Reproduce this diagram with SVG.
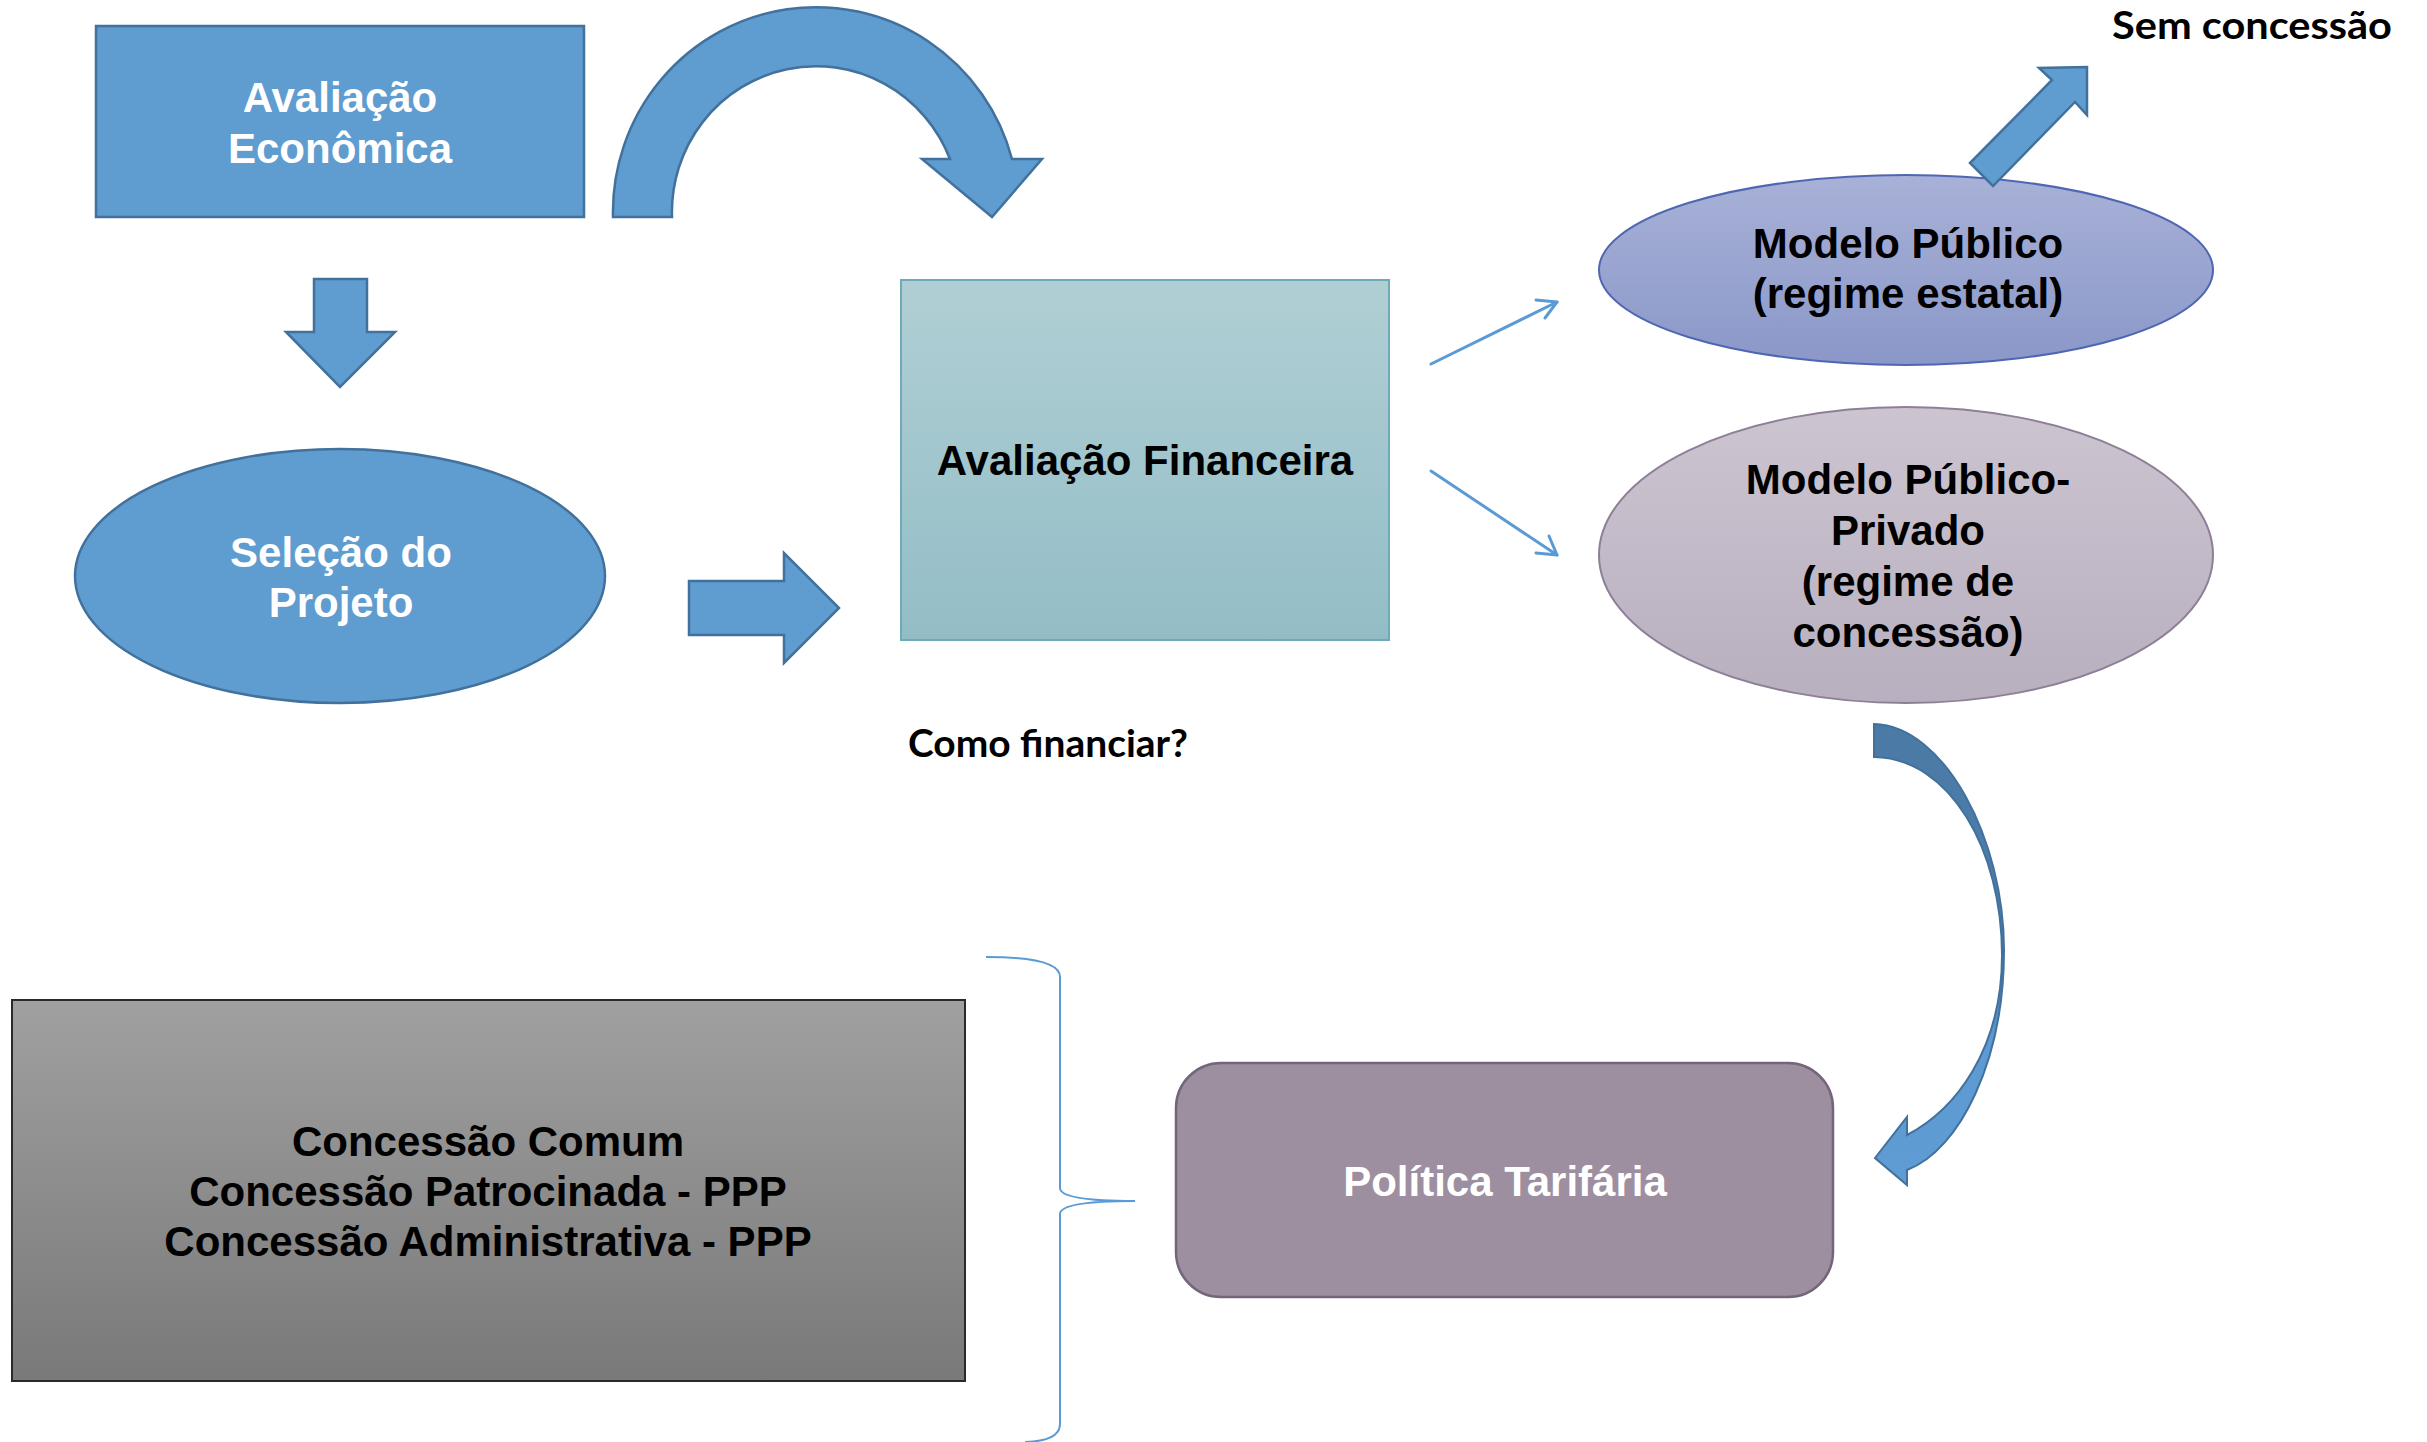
<svg xmlns="http://www.w3.org/2000/svg" width="2427" height="1442" viewBox="0 0 2427 1442">
  <style>
    .blue { fill: #5f9cd0; stroke: #41719c; stroke-width: 2.5; }
    .t { font-family: "Liberation Sans", Arial, sans-serif; font-weight: bold; font-size: 42px; text-anchor: middle; }
    .w { fill: #ffffff; }
    .k { fill: #000000; }
    .c { font-family: Lato, "Open Sans", sans-serif; font-weight: bold; font-size: 38px; fill: #000000; }
    .thin { fill: none; stroke: #5b9bd5; stroke-width: 3; stroke-linecap: round; stroke-linejoin: round; }
  </style>
  <defs>
    <linearGradient id="gTeal" x1="0" y1="0" x2="0" y2="1">
      <stop offset="0" stop-color="#b0cfd4"/>
      <stop offset="1" stop-color="#93bdc6"/>
    </linearGradient>
    <linearGradient id="gMP" x1="0" y1="0" x2="0" y2="1">
      <stop offset="0" stop-color="#a8b1d7"/>
      <stop offset="1" stop-color="#8a97c8"/>
    </linearGradient>
    <linearGradient id="gMPP" x1="0" y1="0" x2="0" y2="1">
      <stop offset="0" stop-color="#ccc5d0"/>
      <stop offset="1" stop-color="#b8afbf"/>
    </linearGradient>
    <linearGradient id="gGray" x1="0" y1="0" x2="0" y2="1">
      <stop offset="0" stop-color="#a0a0a0"/>
      <stop offset="1" stop-color="#797979"/>
    </linearGradient>
    <linearGradient id="gCurve" gradientUnits="userSpaceOnUse" x1="0" y1="724" x2="0" y2="1185">
      <stop offset="0" stop-color="#4b7aa6"/>
      <stop offset="0.55" stop-color="#4d7eab"/>
      <stop offset="0.68" stop-color="#5d9ad1"/>
      <stop offset="1" stop-color="#5f9cd3"/>
    </linearGradient>
  </defs>

  <g id="node-avaliacao-economica">
    <rect class="blue" x="96" y="26" width="488" height="191"/>
    <text class="t w" x="340" y="112">Avaliação</text>
    <text class="t w" x="340" y="163">Econômica</text>
  </g>

  <g id="node-selecao-projeto">
    <ellipse class="blue" cx="340" cy="576" rx="265" ry="127"/>
    <text class="t w" x="341" y="567">Seleção do</text>
    <text class="t w" x="341" y="617">Projeto</text>
  </g>

  <g id="node-avaliacao-financeira">
    <rect x="901" y="280" width="488" height="360" fill="url(#gTeal)" stroke="#6eaab8" stroke-width="2"/>
    <text class="t k" x="1145" y="475">Avaliação Financeira</text>
  </g>

  <g id="node-como-financiar">
    <text class="c" x="908" y="757" textLength="280" lengthAdjust="spacingAndGlyphs">Como financiar?</text>
  </g>

  <g id="node-modelo-publico">
    <ellipse cx="1906" cy="270" rx="307" ry="95" fill="url(#gMP)" stroke="#4f66b3" stroke-width="2"/>
    <text class="t k" x="1908" y="258">Modelo Público</text>
    <text class="t k" x="1908" y="308">(regime estatal)</text>
  </g>

  <g id="node-sem-concessao">
    <text class="c" x="2112" y="39" textLength="280" lengthAdjust="spacingAndGlyphs">Sem concessão</text>
  </g>

  <g id="node-modelo-publico-privado">
    <ellipse cx="1906" cy="555" rx="307" ry="148" fill="url(#gMPP)" stroke="#8e7f96" stroke-width="2"/>
    <text class="t k" x="1908" y="494">Modelo Público-</text>
    <text class="t k" x="1908" y="545">Privado</text>
    <text class="t k" x="1908" y="596">(regime de</text>
    <text class="t k" x="1908" y="647">concessão)</text>
  </g>

  <g id="node-politica-tarifaria">
    <rect x="1176" y="1063" width="657" height="234" rx="45" ry="45" fill="#9d8fa0" stroke="#73667a" stroke-width="2.5"/>
    <text class="t w" x="1505" y="1196">Política Tarifária</text>
  </g>

  <g id="node-concessoes">
    <rect x="12" y="1000" width="953" height="381" fill="url(#gGray)" stroke="#2a2a2a" stroke-width="2"/>
    <text class="t k" x="488" y="1156">Concessão Comum</text>
    <text class="t k" x="488" y="1206">Concessão Patrocinada - PPP</text>
    <text class="t k" x="488" y="1256">Concessão Administrativa - PPP</text>
  </g>

  <g id="connectors">
    <!-- down block arrow -->
    <path class="blue" d="M 314 279 L 367 279 L 367 332 L 395 332 L 340 387 L 286 332 L 314 332 Z"/>
    <!-- right block arrow -->
    <path class="blue" d="M 689 581 L 784 581 L 784 553 L 839 608 L 784 663 L 784 635 L 689 635 Z"/>
    <!-- U-turn arrow -->
    <path class="blue" d="M 613 217 A 203 205 0 0 1 1012 159 L 1042 159 L 992 217 L 922 159 L 950 159 A 144 146 0 0 0 672 217 Z"/>
    <!-- diagonal arrow to Sem concessão -->
    <path class="blue" d="M 1970 163 L 2052 80 L 2039 68 L 2087 67 L 2087 115 L 2075 102 L 1993 186 Z"/>
    <!-- thin arrows -->
    <path class="thin" d="M 1431 364 L 1557 302"/>
    <path class="thin" d="M 1536 300 L 1557 302 L 1545 318"/>
    <path class="thin" d="M 1431 471 L 1557 555"/>
    <path class="thin" d="M 1536 553 L 1557 555 L 1549 536"/>
    <!-- curved arrow to Política Tarifária -->
    <path d="M 1874 724 C 1945 726, 2004 840, 2004 950 C 2004 1060, 1960 1150, 1907 1170 L 1907 1185 L 1875 1158 L 1907 1117 L 1907 1135 C 1955 1110, 2002 1050, 2002 955 C 2002 850, 1950 758, 1874 757 Z" fill="url(#gCurve)" stroke="#41719c" stroke-width="2"/>
    <!-- brace -->
    <path d="M 986 957 Q 1060 957 1060 977 L 1060 1188 Q 1060 1201 1135 1201 Q 1060 1201 1060 1214 L 1060 1424 Q 1060 1441 1025 1442" fill="none" stroke="#5b9bd5" stroke-width="2"/>
  </g>
</svg>
